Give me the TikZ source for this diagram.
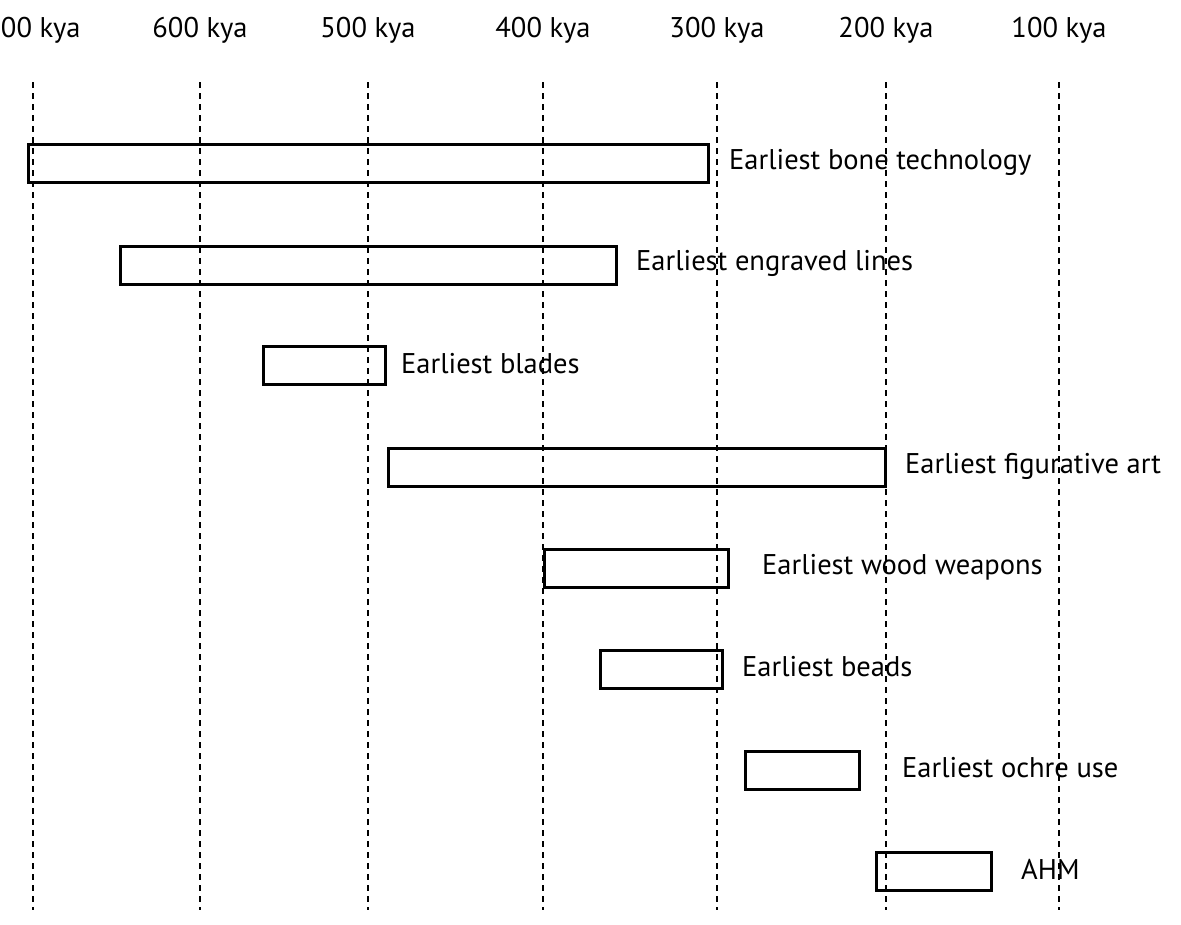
\documentclass[tikz,border=0pt]{standalone}
\usepackage{fontspec}
\setmainfont{PT Sans}
\begin{document}
\begin{tikzpicture}[x=1pt,y=-1pt,
  bar/.style={draw,line width=3.4pt,minimum height=38pt,inner sep=0pt,anchor=north west},
  lab/.style={anchor=west,font=\fontsize{28.5}{31}\selectfont,inner sep=0pt},
  yr/.style={font=\fontsize{28.5}{31}\selectfont,inner sep=0pt},
  grid/.style={dashed,dash pattern=on 6pt off 5pt,line width=1.4pt},
  gridb/.style={dashed,dash pattern=on 6pt off 5pt,line width=2.4pt}]
\useasboundingbox (0,0) rectangle (1181,924);
\clip (0,0) rectangle (1181,924);
\foreach \x/\t/\s in {33/700/gridb,200/600/grid,368/500/gridb,543/400/grid,717/300/grid,886/200/grid,1059/100/gridb}{
  \node[yr] (t\t) at (\x,30) {\t{} kya};
  \draw[\s] (\x,82) -- (\x,910);
}
\node[bar,minimum width=680pt] (b1) at (27,143) {};
\node[lab] (l1) at (729,162) {Earliest bone technology};
\node[bar,minimum width=496pt] (b2) at (119,245) {};
\node[lab] (l2) at (636,263) {Earliest engraved lines};
\node[bar,minimum width=122pt] (b3) at (262,345) {};
\node[lab] (l3) at (401,364) {Earliest blades};
\node[bar,minimum width=497pt] (b4) at (387,447) {};
\node[lab] (l4) at (905,466) {Earliest figurative art};
\node[bar,minimum width=184pt] (b5) at (543,548) {};
\node[lab] (l5) at (762,567) {Earliest wood weapons};
\node[bar,minimum width=122pt] (b6) at (599,649) {};
\node[lab] (l6) at (742,667) {Earliest beads};
\node[bar,minimum width=114pt] (b7) at (744,750) {};
\node[lab] (l7) at (902,768) {Earliest ochre use};
\node[bar,minimum width=115pt] (b8) at (875,851) {};
\node[lab] (l8) at (1021,869) {AHM};
\end{tikzpicture}
\end{document}
